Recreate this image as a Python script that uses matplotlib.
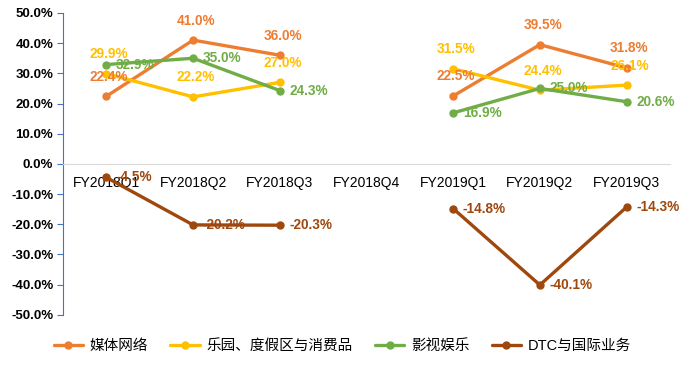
import numpy as np
import matplotlib
matplotlib.use("Agg")
import matplotlib.pyplot as plt
from matplotlib.ticker import FuncFormatter

plt.rcParams['font.family'] = ['Liberation Sans', 'Noto Sans CJK SC', 'DejaVu Sans']

quarters = ["FY2018Q1", "FY2018Q2", "FY2018Q3", "FY2018Q4",
            "FY2019Q1", "FY2019Q2", "FY2019Q3"]
media = [22.4, 41.0, 36.0, np.nan, 22.5, 39.5, 31.8]
parks = [29.9, 22.2, 27.0, np.nan, 31.5, 24.4, 26.1]
studio = [32.9, 35.0, 24.3, np.nan, 16.9, 25.0, 20.6]
dtc = [-4.5, -20.2, -20.3, np.nan, -14.8, -40.1, -14.3]

names = ["媒体网络", "乐园、度假区与消费品", "影视娱乐", "DTC与国际业务"]
colors = ["#ED7D31", "#FFC000", "#70AD47", "#9E480E"]
label_pos = ["above", "above", "right", "right"]


def main():
    fig = plt.figure(figsize=(6.85, 3.7), dpi=100)
    ax = fig.add_axes([0.092, 0.149, 0.886, 0.816])
    x = np.arange(len(quarters))

    for vals, name, c, pos in zip([media, parks, studio, dtc], names, colors, label_pos):
        ax.plot(x, vals, color=c, lw=2.4, marker='o', ms=5, label=name,
                solid_capstyle='round')
        for xi, v in zip(x, vals):
            if np.isnan(v):
                continue
            if pos == "above":
                ax.annotate(f"{v:.1f}%", (xi, v), xytext=(2, 9), textcoords='offset points',
                            ha='center', va='bottom', color=c, fontsize=9.8, fontweight='bold')
            else:
                ax.annotate(f"{v:.1f}%", (xi, v), xytext=(7, 0), textcoords='offset points',
                            ha='left', va='center', color=c, fontsize=9.8, fontweight='bold')

    ax.set_xlim(-0.5, len(quarters) - 0.5)
    ax.set_ylim(-50, 50)
    ax.set_yticks(np.arange(-50, 51, 10))
    ax.yaxis.set_major_formatter(FuncFormatter(lambda v, p: f"{v:.1f}%"))
    ax.set_xticks(x)
    ax.set_xticklabels(quarters, fontweight='bold', fontsize=8.3)

    for s in ['top', 'right']:
        ax.spines[s].set_visible(False)
    ax.spines['bottom'].set_position(('data', 0))
    ax.spines['bottom'].set_color('#D9D9D9')
    ax.spines['left'].set_color('#4472C4')
    ax.tick_params(axis='x', length=0, pad=9)
    ax.tick_params(axis='y', length=4, color='#4472C4', labelsize=9.5, pad=3)
    for t in ax.get_yticklabels():
        t.set_fontweight('bold')

    fig.legend(loc='lower center', bbox_to_anchor=(0.5, 0.01), ncol=4, frameon=False,
               fontsize=10.5, handlelength=2.0, columnspacing=1.5, handletextpad=0.5)

    fig.savefig("out.png", dpi=100)


if __name__ == '__main__':
    main()
